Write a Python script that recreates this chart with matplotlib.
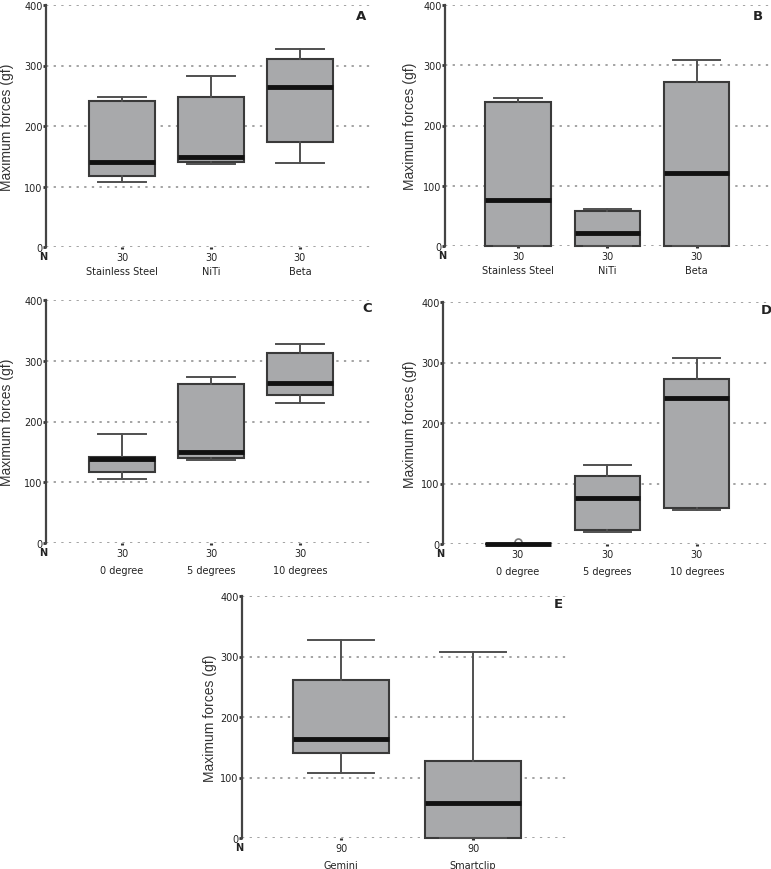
import matplotlib
matplotlib.use("Agg")
import matplotlib.pyplot as plt
from matplotlib.transforms import blended_transform_factory

# ---------------- data ----------------
wire_labels = ["Stainless Steel", "NiTi", "Beta"]
angle_labels = ["0 degree", "5 degrees", "10 degrees"]
bracket_labels = ["Gemini", "Smartclip"]

# each list: [whislo, q1, med, q3, whishi]
A_ss = [107, 117, 140, 241, 248]
A_niti = [138, 141, 148, 248, 283]
A_beta = [139, 173, 265, 311, 327]

B_ss = [0, 0, 76, 239, 245]
B_niti = [0, 0, 22, 58, 62]
B_beta = [0, 0, 121, 272, 308]

C_0 = [106, 117, 139, 141, 180]
C_5 = [136, 140, 150, 261, 274]
C_10 = [231, 244, 264, 312, 327]

D_0 = [0, 0, 0, 0, 0]
D_5 = [20, 23, 76, 113, 130]
D_10 = [56, 60, 242, 272, 308]
D_0_fliers = [3]

E_gemini = [107, 141, 163, 261, 327]
E_smart = [0, 0, 58, 128, 308]

n_30 = [30, 30, 30]
n_90 = [90, 90]

y_ticks = [0, 100, 200, 300, 400]

# ---------------- style ----------------
W, H = 771, 870
fig = plt.figure(figsize=(W / 100, H / 100), dpi=100)

BOX_FACE = "#a8a9ab"
BOX_EDGE = "#3a3a3a"
WHISK = "#505050"
TXT = "#222222"


def make_stats(vals, label, fliers=None):
    lo, q1, med, q3, hi = vals
    return dict(whislo=lo, q1=q1, med=med, q3=q3, whishi=hi,
                fliers=fliers or [], label=label)


def panel(px_left, px_right, px_top, px_bottom, xlim, stats, cats, ns,
          letter, letter_px, ylabel_dx, width, capw, label_off=14):
    ax = fig.add_axes([px_left / W, 1 - px_bottom / H,
                       (px_right - px_left) / W, (px_bottom - px_top) / H])
    pos = list(range(1, len(stats) + 1))
    ax.bxp(stats, positions=pos, widths=width, capwidths=capw,
           patch_artist=True, showfliers=True,
           boxprops=dict(facecolor=BOX_FACE, edgecolor=BOX_EDGE, linewidth=1.5),
           medianprops=dict(color="#111111", linewidth=3.5, solid_capstyle="butt"),
           whiskerprops=dict(color=WHISK, linewidth=1.4),
           capprops=dict(color=WHISK, linewidth=1.4),
           flierprops=dict(marker="o", markersize=5, markerfacecolor="none",
                           markeredgecolor="#777777", markeredgewidth=1.2))
    for a in ax.patches + ax.lines:
        a.set_clip_on(False)
    ax.set_xlim(*xlim)
    ax.set_ylim(0, 400)
    ax.set_yticks(y_ticks)
    ax.set_yticklabels([str(t) for t in y_ticks], fontsize=7, color=TXT)
    ax.tick_params(axis="y", length=2, width=2, direction="out", pad=0.5,
                   color="#333333")
    ax.set_xticks(pos)
    ax.set_xticklabels([str(n) for n in ns], fontsize=7, color=TXT)
    ax.tick_params(axis="x", length=1.5, width=2.2, direction="out", pad=2,
                   color="#333333")
    ax.set_facecolor("none")
    for s in ["top", "right", "bottom"]:
        ax.spines[s].set_visible(False)
    ax.spines["left"].set_color("#444444")
    ax.spines["left"].set_linewidth(1.6)
    ax.set_axisbelow(True)
    ax.yaxis.grid(True, linestyle=(0, (1.5, 3.5)), color="#8a8a8a", linewidth=1.1)
    ax.xaxis.grid(False)

    tr = blended_transform_factory(ax.transData, ax.transAxes)
    for p, c in zip(pos, cats):
        ax.annotate(c, xy=(p, 0), xycoords=tr, xytext=(0, -label_off),
                    textcoords="offset points", ha="center", va="top",
                    fontsize=7, color=TXT)
    ax.annotate("N", xy=(0, 0), xycoords="axes fraction", xytext=(-2, -3),
                textcoords="offset points", ha="center", va="top",
                fontsize=7, color=TXT, fontweight="bold")
    fig.text(letter_px[0] / W, 1 - letter_px[1] / H, letter, ha="center",
             va="center", fontsize=9.5, fontweight="bold", color=TXT)
    ax.text(-ylabel_dx / (px_right - px_left), 0.5, "Maximum forces (gf)",
            transform=ax.transAxes, rotation=90, ha="center", va="center",
            fontsize=10, color="#333333", family="Liberation Sans")
    return ax


panel(46, 372, 6, 248, (0.146, 3.81),
      [make_stats(A_ss, ""), make_stats(A_niti, ""), make_stats(A_beta, "")],
      wire_labels, n_30, "A", (361, 16), 39, 0.74, 0.53, label_off=13.5)

panel(445, 771, 6, 247, (0.184, 3.83),
      [make_stats(B_ss, ""), make_stats(B_niti, ""), make_stats(B_beta, "")],
      wire_labels, n_30, "B", (758, 16), 35, 0.73, 0.53, label_off=13.5)

panel(46, 373, 301, 544, (0.146, 3.82),
      [make_stats(C_0, ""), make_stats(C_5, ""), make_stats(C_10, "")],
      angle_labels, n_30, "C", (367, 309), 39, 0.74, 0.53, label_off=16)

panel(443, 771, 303, 545, (0.162, 3.83),
      [make_stats(D_0, "", D_0_fliers), make_stats(D_5, ""), make_stats(D_10, "")],
      angle_labels, n_30, "D", (766, 310), 33, 0.73, 0.53, label_off=16)

panel(242, 567, 597, 839, (0.25, 2.712),
      [make_stats(E_gemini, ""), make_stats(E_smart, "")],
      bracket_labels, n_90, "E", (558, 605), 32, 0.72, 0.5, label_off=15.5)

fig.savefig("out.png", dpi=100)
